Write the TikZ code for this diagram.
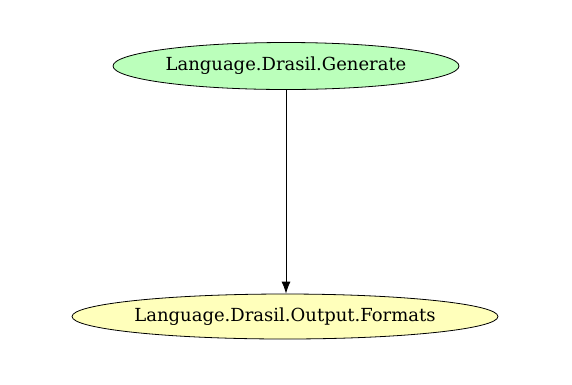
\documentclass[tikz,border=0pt]{standalone}
\usepackage{fontspec}
\setmainfont{DejaVu Serif}
\usetikzlibrary{shapes.geometric,arrows.meta}
\begin{document}
\begin{tikzpicture}[x=1pt,y=-1pt,
  module/.style={ellipse,draw=black,line width=0.8pt,inner sep=0pt,
    font=\fontsize{18}{20}\selectfont},
  dep/.style={draw=black,line width=0.8pt,-{Latex[length=12pt,width=9pt]}}]
  \useasboundingbox (0,0) rectangle (572,384);
  \node[module,fill={rgb,255:red,187;green,255;blue,187},
        minimum width=346pt,minimum height=47pt] (gen) at (286,66) {Language.Drasil.Generate};
  \node[module,fill={rgb,255:red,255;green,255;blue,187},
        minimum width=426pt,minimum height=45pt] (fmt) at (285,316.5) {Language.Drasil.Output.Formats};
  \draw[dep] (gen.south) -- (gen.south |- fmt.north);
\end{tikzpicture}
\end{document}
